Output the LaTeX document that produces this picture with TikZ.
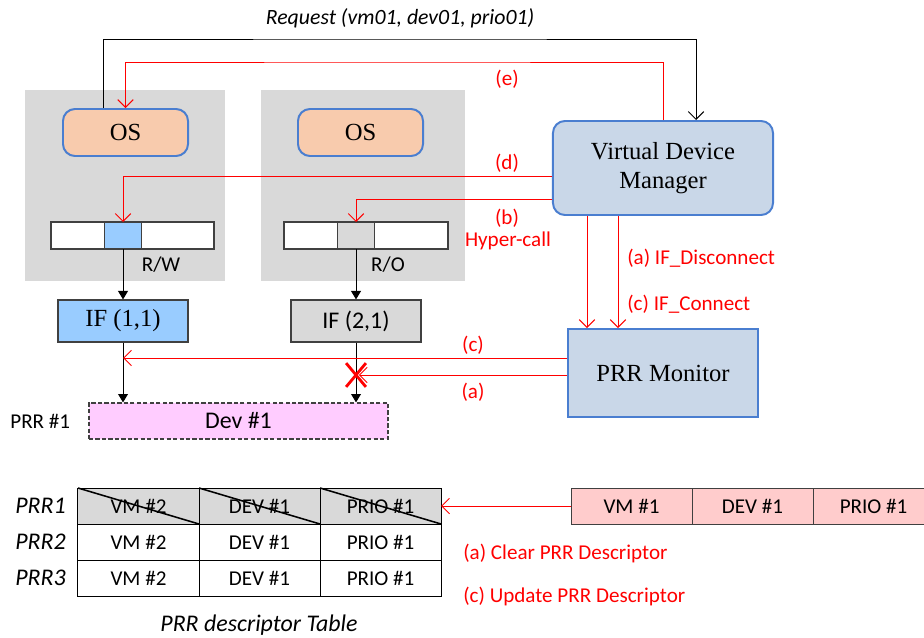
\documentclass[tikz,border=0pt]{standalone}
\usepackage{fontspec}
\setmainfont{Liberation Serif}
\newfontfamily\calfont{Carlito}
\usepackage{tikz}
\usetikzlibrary{arrows.meta,positioning,shapes.misc}
\usepackage{xcolor}
\definecolor{VMgray}{HTML}{D9D9D9}
\definecolor{OSpeach}{HTML}{F8CBAD}
\definecolor{MgrBlue}{HTML}{C9D7E8}
\definecolor{EdgeBlue}{HTML}{4A7ED0}
\definecolor{IFblue}{HTML}{99CCFF}
\definecolor{DevPink}{HTML}{FFCCFF}
\definecolor{DescPink}{HTML}{FFCCCC}
\definecolor{CellEdge}{HTML}{404040}

\begin{document}
\begin{tikzpicture}[
    x=0.025cm,y=-0.025cm,
    node distance=0pt,
    vmbox/.style={fill=VMgray,draw=none,minimum height=4.775cm,inner sep=0pt},
    osbox/.style={draw=EdgeBlue,line width=1.4pt,fill=OSpeach,rounded corners=0.3cm,minimum width=3.125cm,minimum height=1.175cm,font=\fontsize{17.5}{21}\selectfont},
    mgrbox/.style={draw=EdgeBlue,line width=1.4pt,fill=MgrBlue,align=center,font=\fontsize{17.5}{21}\selectfont},
    cell/.style={draw=CellEdge,line width=0.8pt,minimum width=#1,minimum height=0.675cm,inner sep=0pt,outer sep=0pt},
    ifbox/.style={draw=CellEdge,line width=0.8pt,minimum width=3.25cm,minimum height=1.05cm,inner sep=0pt},
    tcell/.style={draw,line width=0.7pt,minimum width=3.025cm,minimum height=0.9cm,inner sep=0pt,outer sep=0pt,font=\calfont\fontsize{15}{18}\selectfont},
    lbl/.style={font=\calfont\fontsize{15}{18}\selectfont,inner sep=0pt},
    rowlbl/.style={font=\calfont\itshape\fontsize{17}{20}\selectfont,inner sep=0pt},
    redlbl/.style={lbl,text=red},
    redarr/.style={red,line width=0.7pt,-{Straight Barb[length=5.5pt,width=11pt]}},
    reqarr/.style={line width=0.7pt,-{Straight Barb[length=5.5pt,width=11pt]}},
    blkarr/.style={line width=0.7pt,-{Triangle[length=6pt,width=7pt]}},
    strike/.style={line width=1.1pt}
  ]
    \path[use as bounding box] (0,0) rectangle (924,637);
    \clip (0,0) rectangle (924,637);

    % VIRTUAL MACHINES
    \node[vmbox,minimum width=5cm] (vm1) at (125,185.5) {};
    \node[vmbox,minimum width=5.1cm] (vm2) at (363,185.5) {};
    \node[osbox] (os1) at (125.5,132.5) {OS};
    \node[osbox] (os2) at (360.5,132.5) {OS};

    % register bars
    \node[cell=0.925cm,fill=IFblue] (bar1b) at (123,235.5) {};
    \node[cell=1.3375cm,fill=white,left=of bar1b] (bar1a) {};
    \node[cell=1.8125cm,fill=white,right=of bar1b] (bar1c) {};
    \node[cell=0.925cm,fill=VMgray] (bar2b) at (356,235.5) {};
    \node[cell=1.3375cm,fill=white,left=of bar2b] (bar2a) {};
    \node[cell=1.8375cm,fill=white,right=of bar2b] (bar2c) {};
    \node[lbl] (rw) at (161,265) {R/W};
    \node[lbl] (ro) at (388,265) {R/O};

    % INTERFACES AND DEVICE
    \node[ifbox,fill=IFblue,font=\fontsize{17.5}{21}\selectfont] (if11) at (123,321) {IF (1,1)};
    \node[ifbox,fill=VMgray,font=\calfont\fontsize{17}{20}\selectfont] (if21) at (356,321) {IF (2,1)};
    \node[draw=CellEdge,line width=0.8pt,dash pattern=on 3pt off 1.6pt,fill=DevPink,minimum width=7.475cm,minimum height=0.9cm,inner sep=0pt,font=\calfont\fontsize{17}{20}\selectfont] (dev) at (238.5,421) {Dev \#1};
    \node[lbl,left=0.45cm of dev] (prr) {PRR \#1};

    % MANAGERS
    \node[mgrbox,rounded corners=0.3cm,minimum width=5.5cm,minimum height=2.35cm] (vdm) at (663,168) {Virtual Device\\Manager};
    \node[mgrbox,minimum width=4.75cm,minimum height=2.2cm] (mon) at (663,373) {PRR Monitor};

    % DESCRIPTOR TABLE
    \node[tcell,fill=VMgray] (c11) at (138.5,506) {VM \#2};
    \node[tcell,fill=VMgray,right=of c11] (c12) {DEV \#1};
    \node[tcell,fill=VMgray,right=of c12] (c13) {PRIO \#1};
    \node[tcell,below=of c11] (c21) {VM \#2};
    \node[tcell,right=of c21] (c22) {DEV \#1};
    \node[tcell,right=of c22] (c23) {PRIO \#1};
    \node[tcell,below=of c21] (c31) {VM \#2};
    \node[tcell,right=of c31] (c32) {DEV \#1};
    \node[tcell,right=of c32] (c33) {PRIO \#1};
    \draw[strike] (c11.north west) -- (c11.south east);
    \draw[strike] (c12.north west) -- (c12.south east);
    \draw[strike] (c13.north west) -- (c13.south east);
    \node[rowlbl,left=0.3cm of c11] (r1) {PRR1};
    \node[rowlbl,left=0.3cm of c21] (r2) {PRR2};
    \node[rowlbl,left=0.3cm of c31] (r3) {PRR3};
    \node[rowlbl] (cap) at (259,625) {PRR descriptor Table};

    % new descriptor
    \node[tcell,draw=CellEdge,fill=DescPink] (d1) at (631.5,506) {VM \#1};
    \node[tcell,draw=CellEdge,fill=DescPink,right=of d1] (d2) {DEV \#1};
    \node[tcell,draw=CellEdge,fill=DescPink,right=of d2] (d3) {PRIO \#1};

    % Labels
    \node[lbl,font=\calfont\itshape\fontsize{15.5}{18}\selectfont] (req) at (400,18) {Request (vm01, dev01, prio01)};
    \node[redlbl] (le) at (507,79) {(e)};
    \node[redlbl] (ld) at (507,163) {(d)};
    \node[redlbl] (lb) at (507,218) {(b)};
    \node[redlbl] (lhc) at (508,241) {Hyper-call};
    \node[redlbl,anchor=west] (ldis) at (627,258) {(a) IF\_Disconnect};
    \node[redlbl,anchor=west] (lcon) at (627,304) {(c) IF\_Connect};
    \node[redlbl] (lc) at (473,345) {(c)};
    \node[redlbl] (la) at (473,392) {(a)};
    \node[redlbl,anchor=west] (lclr) at (463,553) {(a) Clear PRR Descriptor};
    \node[redlbl,anchor=west] (lupd) at (463,596) {(c) Update PRR Descriptor};

    % Arrows - black
    \coordinate (reqtop) at (400,39);
    \draw[reqarr] ([xshift=-0.5625cm]os1.north) |- (reqtop) -| ([xshift=0.825cm]vdm.north);
    \draw[blkarr] (bar1b.south) -- (if11.north);
    \draw[blkarr] (bar2b.south) -- (if21.north);
    \draw[blkarr] (if11.south) -- (if11.south |- dev.north);
    \draw[blkarr] (if21.south) -- (if21.south |- dev.north);

    % Arrows - red
    \coordinate (etop) at (400,62);
    \draw[redarr] (vdm.north) |- (etop) -| (os1.north);
    \draw[redarr] ([yshift=-0.2cm]vdm.west) -| (bar1b.north);
    \draw[redarr] ([yshift=-0.775cm]vdm.west) -| (bar2b.north);
    \draw[redarr] ([xshift=-1.9cm]vdm.south) -- ([xshift=-1.9cm]vdm.south |- mon.north);
    \draw[redarr] ([xshift=-1.125cm]vdm.south) -- ([xshift=-1.125cm]vdm.south |- mon.north);
    \coordinate (cfrom) at ([yshift=0.375cm]mon.west);
    \coordinate (afrom) at ([yshift=-0.05cm]mon.west);
    \draw[redarr] (cfrom) -- (if11.south |- cfrom);
    \draw[redarr] (afrom) -- ([xshift=2pt]if21.south |- afrom);
    \node[cross out,draw=red,line width=2pt,minimum width=0.425cm,minimum height=0.525cm,inner sep=0pt] (xmark) at (if21.south |- afrom) {};
    \draw[redarr] (d1.west) -- (c13.east);
  \end{tikzpicture}
\end{document}
